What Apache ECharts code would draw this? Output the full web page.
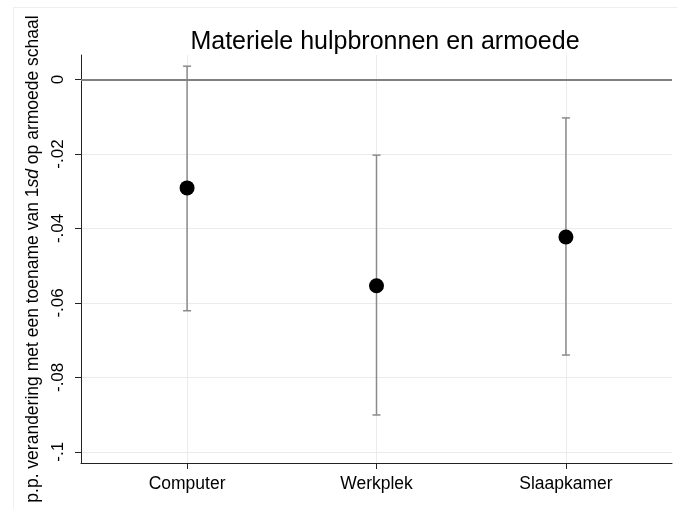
<!DOCTYPE html>
<html>
<head>
<meta charset="utf-8">
<script src="https://cdn.jsdelivr.net/npm/echarts@6/dist/echarts.min.js"></script>
<style>
  html, body { margin: 0; padding: 0; background: #fff; }
  #chart { width: 677px; height: 509px; }
</style>
</head>
<body>
<div id="chart"></div>
<script>
// categories and estimates
var categories = ['Computer', 'Werkplek', 'Slaapkamer'];
var xPos = [1, 2, 3];
var estimates = [-0.0291, -0.0554, -0.0423];
var ciLower = [-0.0621, -0.0901, -0.0740];
var ciUpper = [0.0036, -0.0203, -0.0103];
var yTicks = [-0.1, -0.08, -0.06, -0.04, -0.02, 0];

function stataFmt(v) {
    if (Math.abs(v) < 1e-9) return '0';
    var s = String(parseFloat(Math.abs(v).toFixed(4))).replace(/^0/, '');
    return (v < 0 ? '-' : '') + s;
}

var pointData = xPos.map(function (x, i) { return [x, estimates[i]]; });
var ciData = xPos.map(function (x, i) { return [x, ciLower[i], ciUpper[i]]; });

var myChart = echarts.init(document.getElementById('chart'));
var option = {
    animation: false,
    textStyle: { fontFamily: 'Liberation Sans, Arial, sans-serif' },
    title: {
        text: 'Materiele hulpbronnen en armoede',
        left: 380, top: 25, textAlign: 'center',
        textStyle: { fontSize: 25, fontWeight: 'normal', color: '#000' }
    },
    graphic: [
        { type: 'line', shape: { x1: 13.5, y1: 7.5, x2: 677, y2: 7.5 }, style: { stroke: '#eeeeee', lineWidth: 1 } },
        { type: 'line', shape: { x1: 13.5, y1: 7.5, x2: 13.5, y2: 509 }, style: { stroke: '#eeeeee', lineWidth: 1 } }
    ],
    grid: { left: 81, right: 5, top: 55, bottom: 46, containLabel: false },
    xAxis: {
        type: 'value',
        min: 0.44, max: 3.56,
        axisLine: { show: true, onZero: false, lineStyle: { color: '#222', width: 1 } },
        axisTick: { show: true, length: 6, customValues: xPos, lineStyle: { color: '#222' } },
        axisLabel: {
            customValues: xPos, margin: 12, fontSize: 17.5, color: '#000',
            formatter: function (v) { return categories[Math.round(v) - 1] || ''; }
        },
        splitLine: { show: true, lineStyle: { color: '#ebebeb', width: 1 } }
    },
    yAxis: {
        type: 'value',
        min: -0.103, max: 0.0066,
        name: '{n|p.p. verandering met een toename van 1}{i|sd}{n| op armoede schaal}',
        nameLocation: 'middle', nameRotate: 90, nameGap: 34,
        nameTextStyle: {
            rich: {
                n: { fontSize: 17.5, color: '#000' },
                i: { fontSize: 17.5, color: '#000', fontStyle: 'italic' }
            }
        },
        axisLine: { show: true, onZero: false, lineStyle: { color: '#222', width: 1 } },
        axisTick: { show: true, length: 6, customValues: yTicks, lineStyle: { color: '#222' } },
        axisLabel: {
            customValues: yTicks, rotate: 90, margin: 14, fontSize: 17, color: '#000',
            formatter: stataFmt
        },
        splitLine: { show: true, lineStyle: { color: '#ebebeb', width: 1 } }
    },
    series: [
        {
            type: 'custom',
            name: 'ci',
            data: ciData,
            z: 3,
            renderItem: function (params, api) {
                var x = api.value(0);
                var lo = api.coord([x, api.value(1)]);
                var hi = api.coord([x, api.value(2)]);
                var cap = 4;
                var st = { stroke: '#8a8a8a', lineWidth: 1.5 };
                return {
                    type: 'group',
                    children: [
                        { type: 'line', shape: { x1: lo[0], y1: lo[1], x2: hi[0], y2: hi[1] }, style: st },
                        { type: 'line', shape: { x1: lo[0] - cap, y1: lo[1], x2: lo[0] + cap, y2: lo[1] }, style: st },
                        { type: 'line', shape: { x1: hi[0] - cap, y1: hi[1], x2: hi[0] + cap, y2: hi[1] }, style: st }
                    ]
                };
            },
            markLine: {
                silent: true,
                symbol: 'none',
                label: { show: false },
                lineStyle: { color: '#808080', width: 2, type: 'solid' },
                data: [{ yAxis: 0 }]
            }
        },
        {
            type: 'scatter',
            name: 'estimate',
            data: pointData,
            symbol: 'circle',
            symbolSize: 15,
            z: 4,
            itemStyle: { color: '#000', opacity: 1 }
        }
    ]
};
myChart.setOption(option);
</script>
</body>
</html>
